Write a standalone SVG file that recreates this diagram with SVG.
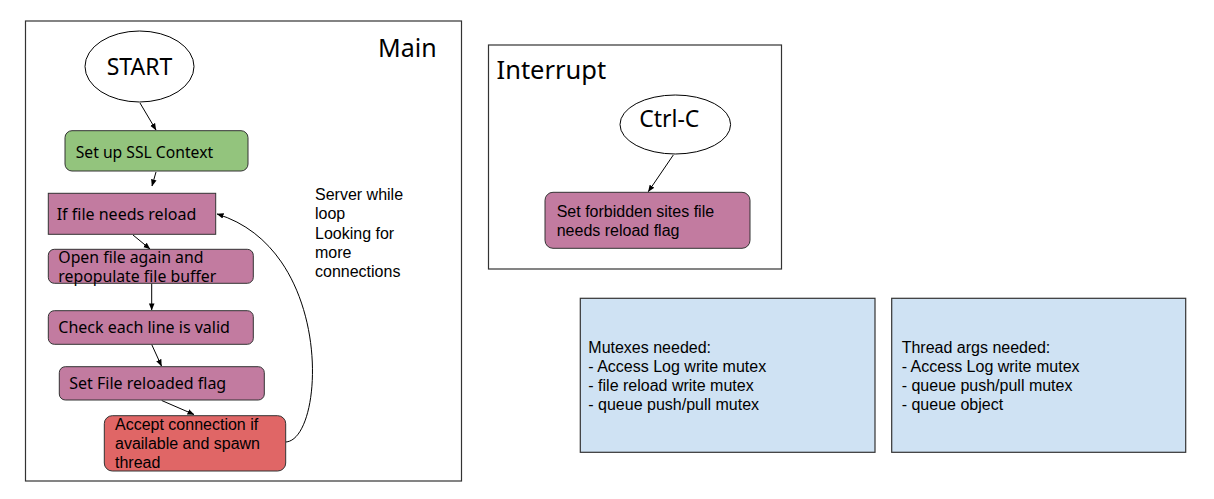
<svg xmlns="http://www.w3.org/2000/svg" width="1214" height="499" viewBox="0 0 1214 499">
<defs>
<style>
.frame{fill:#ffffff;stroke:#333333;stroke-width:1.2}
.ell{fill:#ffffff;stroke:#000000;stroke-width:1}
.green{fill:#93c47d;stroke:#333333;stroke-width:1}
.purple{fill:#c27ba0;stroke:#333333;stroke-width:1}
.red{fill:#e06666;stroke:#333333;stroke-width:1}
.blue{fill:#cfe2f3;stroke:#333333;stroke-width:1.2}
.plex{font-family:"Noto Sans","DejaVu Sans",sans-serif;fill:#000000}
.arial{font-family:"Liberation Sans",Arial,sans-serif;font-size:16px;fill:#000000}
.edge{fill:none;stroke:#000000;stroke-width:1;marker-end:url(#arr)}
</style>
<marker id="arr" viewBox="0 0 8 8" refX="7.5" refY="4" markerWidth="7" markerHeight="7" markerUnits="userSpaceOnUse" orient="auto">
<path d="M0,0.8 L8,4 L0,7.2 z" fill="#000000"/>
</marker>
</defs>
<rect width="1214" height="499" fill="#ffffff"/>

<g id="main-frame">
<rect class="frame" x="25.5" y="21" width="436" height="460"/>
<text class="plex" x="378" y="57" font-size="25">Main</text>
</g>
<g id="interrupt-frame">
<rect class="frame" x="488.5" y="45" width="293" height="224"/>
<text class="plex" x="496.5" y="78.5" font-size="25.5">Interrupt</text>
</g>

<g id="connectors">
<line class="edge" x1="140" y1="103" x2="156" y2="130"/>
<line class="edge" x1="156" y1="172" x2="152" y2="186"/>
<line class="edge" x1="133" y1="235" x2="150" y2="249"/>
<line class="edge" x1="151.7" y1="283.5" x2="151.7" y2="310"/>
<line class="edge" x1="151.7" y1="344.5" x2="161.5" y2="366"/>
<line class="edge" x1="161.7" y1="400.5" x2="194" y2="414.5"/>
<path class="edge" d="M285.7,442 C325,440 335,250 217,214"/>
<line class="edge" x1="673.3" y1="155" x2="648.3" y2="191.7"/>
</g>

<g id="start">
<ellipse class="ell" cx="139.5" cy="66.5" rx="54.5" ry="35.5"/>
<text class="plex" x="139.5" y="75" font-size="23" text-anchor="middle">START</text>
</g>
<g id="ssl">
<rect class="green" x="65" y="130.7" width="183" height="40.3" rx="7"/>
<text class="plex" x="75.7" y="157.7" font-size="15.7">Set up SSL Context</text>
</g>
<g id="if-reload">
<rect class="purple" x="48.3" y="193.3" width="167.4" height="41"/>
<text class="plex" x="56.7" y="220" font-size="16">If file needs reload</text>
</g>
<g id="open-file">
<rect class="purple" x="48.3" y="249.3" width="205" height="34" rx="6"/>
<text class="plex" x="58.3" y="262.6" font-size="15.8">Open file again and</text>
<text class="plex" x="58.3" y="282.2" font-size="15.8">repopulate file buffer</text>
</g>
<g id="check-lines">
<rect class="purple" x="48.3" y="310.7" width="205" height="33.6" rx="6"/>
<text class="plex" x="58.3" y="333.3" font-size="16">Check each line is valid</text>
</g>
<g id="set-flag">
<rect class="purple" x="59.3" y="366.7" width="205" height="33.3" rx="6"/>
<text class="plex" x="69.3" y="389" font-size="16">Set File reloaded flag</text>
</g>
<g id="accept">
<rect class="red" x="104.3" y="415.7" width="181.4" height="55.3" rx="8"/>
<text class="arial" x="115" y="430">Accept connection if</text>
<text class="arial" x="115" y="449">available and spawn</text>
<text class="arial" x="115" y="467.7">thread</text>
</g>
<g id="loop-label">
<text class="arial" x="315" y="200">Server while</text>
<text class="arial" x="315" y="219.3">loop</text>
<text class="arial" x="315" y="239">Looking for</text>
<text class="arial" x="315" y="258.3">more</text>
<text class="arial" x="315" y="277.3">connections</text>
</g>

<g id="ctrl-c">
<ellipse class="ell" cx="675.3" cy="124.5" rx="55.3" ry="29.5"/>
<text class="plex" x="669.3" y="126.7" font-size="23" text-anchor="middle">Ctrl-C</text>
</g>
<g id="set-forbidden">
<rect class="purple" x="545" y="192.3" width="205" height="56" rx="8"/>
<text class="arial" x="556.7" y="216.7">Set forbidden sites file</text>
<text class="arial" x="556.7" y="236">needs reload flag</text>
</g>

<g id="mutexes">
<rect class="blue" x="580.3" y="298.3" width="294.7" height="154"/>
<text class="arial" x="588.3" y="353.3">Mutexes needed:</text>
<text class="arial" x="588.3" y="372">- Access Log write mutex</text>
<text class="arial" x="588.3" y="391">- file reload write mutex</text>
<text class="arial" x="588.3" y="410">- queue push/pull mutex</text>
</g>
<g id="thread-args">
<rect class="blue" x="891.7" y="298.3" width="294" height="154"/>
<text class="arial" x="901.7" y="353.3">Thread args needed:</text>
<text class="arial" x="901.7" y="372">- Access Log write mutex</text>
<text class="arial" x="901.7" y="391">- queue push/pull mutex</text>
<text class="arial" x="901.7" y="410">- queue object</text>
</g>
</svg>
